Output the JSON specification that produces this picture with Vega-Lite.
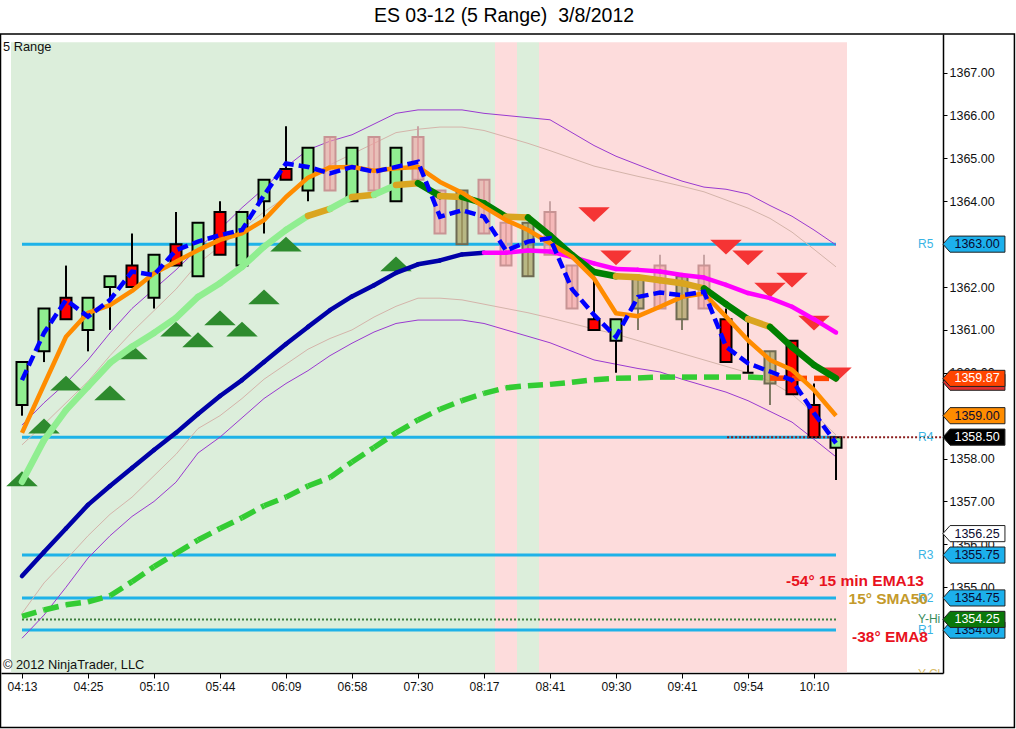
{
"$schema":"https://vega.github.io/schema/vega-lite/v6.json",
"width":942,"height":639,
"autosize":{"type":"none"},
"padding":{"left":1,"top":34,"right":73,"bottom":56},
"background":"#ffffff",
"title":{"text":"ES 03-12 (5 Range)\u00a0 3/8/2012","font":"Liberation Sans","fontSize":19.5,"fontWeight":"normal","color":"#000000","anchor":"middle","frame":"group","dx":32,"dy":18,"offset":10,"baseline":"alphabetic"},
"config":{"view":{"stroke":null},"font":"Liberation Sans"},
"datasets":{
"bars":[
{"i":0,"o":1359.25,"h":1360.25,"l":1359.0,"c":1360.25,"k":"up","bd":1359.83,"em":1358.6,"l3":1357.46,"l3s":"r","sm":1355.26,"sms":"u","s50":1354.32,"s50s":"g","up":1358.78,"ut":1358.32,"lt":1354.39,"lp":1353.81},
{"i":1,"o":1360.5,"h":1361.5,"l":1360.25,"c":1361.5,"k":"up","bd":1360.93,"em":1359.72,"l3":1358.43,"l3s":"r","sm":1355.82,"sms":"u","s50":1354.47,"s50s":"g","up":1359.3,"ut":1358.8,"lt":1355.1,"lp":1354.35},
{"i":2,"o":1361.75,"h":1362.5,"l":1361.25,"c":1361.25,"k":"dn","bd":1361.7,"em":1360.84,"l3":1359.13,"l3s":"r","sm":1356.37,"sms":"u","s50":1354.59,"s50s":"g","up":1359.76,"ut":1359.3,"lt":1355.64,"lp":1355.0},
{"i":3,"o":1361.0,"h":1361.75,"l":1360.5,"c":1361.75,"k":"up","bd":1361.31,"em":1361.4,"l3":1359.68,"l3s":"r","sm":1356.92,"sms":"u","s50":1354.66,"s50s":"g","up":1360.3,"ut":1359.8,"lt":1356.2,"lp":1355.68},
{"i":4,"o":1362.0,"h":1362.25,"l":1361.0,"c":1362.25,"k":"up","bd":1361.7,"em":1361.58,"l3":1360.23,"l3s":"r","sm":1357.36,"sms":"u","s50":1354.8,"s50s":"g","up":1360.93,"ut":1360.4,"lt":1356.7,"lp":1356.2},
{"i":5,"o":1362.5,"h":1363.25,"l":1362.0,"c":1362.0,"k":"dn","bd":1362.36,"em":1361.91,"l3":1360.61,"l3s":"r","sm":1357.78,"sms":"u","s50":1355.13,"s50s":"g","up":1361.5,"ut":1360.95,"lt":1357.1,"lp":1356.65},
{"i":6,"o":1361.75,"h":1362.75,"l":1361.5,"c":1362.75,"k":"up","bd":1362.28,"em":1362.32,"l3":1360.93,"l3s":"r","sm":1358.2,"sms":"u","s50":1355.48,"s50s":"g","up":1361.95,"ut":1361.45,"lt":1357.6,"lp":1357.0},
{"i":7,"o":1363.0,"h":1363.75,"l":1362.5,"c":1362.5,"k":"dn","bd":1362.86,"em":1362.59,"l3":1361.28,"l3s":"r","sm":1358.6,"sms":"u","s50":1355.79,"s50s":"g","up":1362.4,"ut":1361.95,"lt":1358.1,"lp":1357.45},
{"i":8,"o":1362.25,"h":1363.5,"l":1362.25,"c":1363.5,"k":"up","bd":1363.06,"em":1362.86,"l3":1361.77,"l3s":"r","sm":1359.04,"sms":"u","s50":1356.1,"s50s":"g","up":1362.9,"ut":1362.55,"lt":1358.7,"lp":1358.13},
{"i":9,"o":1363.75,"h":1364.0,"l":1362.75,"c":1362.75,"k":"dn","bd":1363.21,"em":1363.1,"l3":1362.09,"l3s":"r","sm":1359.46,"sms":"u","s50":1356.37,"s50s":"g","up":1363.35,"ut":1362.95,"lt":1359.0,"lp":1358.5},
{"i":10,"o":1362.5,"h":1363.75,"l":1362.5,"c":1363.75,"k":"up","bd":1363.33,"em":1363.25,"l3":1362.47,"l3s":"r","sm":1359.83,"sms":"u","s50":1356.62,"s50s":"g","up":1363.85,"ut":1363.35,"lt":1359.4,"lp":1358.95},
{"i":11,"o":1364.0,"h":1364.5,"l":1363.25,"c":1364.5,"k":"up","bd":1364.14,"em":1363.56,"l3":1362.94,"l3s":"r","sm":1360.25,"sms":"u","s50":1356.9,"s50s":"g","up":1364.3,"ut":1363.75,"lt":1359.85,"lp":1359.4},
{"i":12,"o":1364.75,"h":1365.75,"l":1364.5,"c":1364.5,"k":"dn","bd":1364.88,"em":1364.1,"l3":1363.33,"l3s":"r","sm":1360.67,"sms":"u","s50":1357.1,"s50s":"g","up":1364.8,"ut":1364.1,"lt":1360.2,"lp":1359.75},
{"i":13,"o":1364.25,"h":1365.25,"l":1364.0,"c":1365.25,"k":"up","bd":1364.8,"em":1364.55,"l3":1363.66,"l3s":"f","sm":1361.07,"sms":"u","s50":1357.36,"s50s":"g","up":1365.2,"ut":1364.5,"lt":1360.55,"lp":1360.05},
{"i":14,"o":1365.5,"h":1365.5,"l":1364.25,"c":1364.25,"k":"fd","bd":1364.65,"em":1364.79,"l3":1363.82,"l3s":"r","sm":1361.46,"sms":"u","s50":1357.56,"s50s":"g","up":1365.4,"ut":1364.85,"lt":1360.8,"lp":1360.4},
{"i":15,"o":1364.0,"h":1365.25,"l":1364.0,"c":1365.25,"k":"up","bd":1364.8,"em":1364.8,"l3":1364.1,"l3s":"f","sm":1361.78,"sms":"u","s50":1357.92,"s50s":"g","up":1365.55,"ut":1365.1,"lt":1361.0,"lp":1360.69},
{"i":16,"o":1365.5,"h":1365.5,"l":1364.25,"c":1364.25,"k":"fd","bd":1364.69,"em":1364.71,"l3":1364.15,"l3s":"r","sm":1362.04,"sms":"u","s50":1358.26,"s50s":"g","up":1365.8,"ut":1365.35,"lt":1361.3,"lp":1360.95},
{"i":17,"o":1364.0,"h":1365.25,"l":1364.0,"c":1365.25,"k":"up","bd":1364.8,"em":1364.77,"l3":1364.38,"l3s":"f","sm":1362.33,"sms":"u","s50":1358.6,"s50s":"g","up":1366.05,"ut":1365.6,"lt":1361.55,"lp":1361.15},
{"i":18,"o":1365.5,"h":1365.75,"l":1364.5,"c":1364.5,"k":"fd","bd":1364.92,"em":1364.8,"l3":1364.42,"l3s":"d","sm":1362.53,"sms":"u","s50":1358.9,"s50s":"g","up":1366.13,"ut":1365.68,"lt":1361.74,"lp":1361.23},
{"i":19,"o":1364.25,"h":1364.25,"l":1363.25,"c":1363.25,"k":"fd","bd":1363.64,"em":1364.45,"l3":1364.12,"l3s":"f","sm":1362.62,"sms":"u","s50":1359.15,"s50s":"g","up":1366.13,"ut":1365.73,"lt":1361.74,"lp":1361.23},
{"i":20,"o":1363.0,"h":1364.25,"l":1363.0,"c":1364.25,"k":"fu","bd":1363.79,"em":1364.2,"l3":1364.1,"l3s":"d","sm":1362.76,"sms":"u","s50":1359.35,"s50s":"g","up":1366.13,"ut":1365.73,"lt":1361.7,"lp":1361.23},
{"i":21,"o":1364.5,"h":1364.5,"l":1363.25,"c":1363.25,"k":"fd","bd":1363.64,"em":1363.87,"l3":1363.95,"l3s":"d","sm":1362.8,"sms":"m","s50":1359.52,"s50s":"g","up":1366.05,"ut":1365.65,"lt":1361.6,"lp":1361.15},
{"i":22,"o":1363.5,"h":1363.5,"l":1362.5,"c":1362.5,"k":"fd","bd":1362.85,"em":1363.56,"l3":1363.64,"l3s":"f","sm":1362.8,"sms":"m","s50":1359.65,"s50s":"g","up":1366.0,"ut":1365.5,"lt":1361.5,"lp":1361.0},
{"i":23,"o":1362.25,"h":1363.5,"l":1362.25,"c":1363.5,"k":"fu","bd":1363.06,"em":1363.33,"l3":1363.62,"l3s":"d","sm":1362.85,"sms":"m","s50":1359.7,"s50s":"g","up":1365.95,"ut":1365.35,"lt":1361.4,"lp":1360.85},
{"i":24,"o":1363.75,"h":1364.0,"l":1362.75,"c":1362.75,"k":"fd","bd":1363.14,"em":1363.02,"l3":1363.2,"l3s":"d","sm":1362.83,"sms":"m","s50":1359.73,"s50s":"g","up":1365.9,"ut":1365.18,"lt":1361.28,"lp":1360.7},
{"i":25,"o":1362.5,"h":1362.5,"l":1361.5,"c":1361.5,"k":"fd","bd":1361.95,"em":1362.71,"l3":1362.75,"l3s":"d","sm":1362.7,"sms":"m","s50":1359.78,"s50s":"g","up":1365.6,"ut":1365.0,"lt":1361.15,"lp":1360.5},
{"i":26,"o":1361.25,"h":1362.25,"l":1361.0,"c":1361.0,"k":"dn","bd":1361.35,"em":1362.2,"l3":1362.35,"l3s":"d","sm":1362.55,"sms":"m","s50":1359.84,"s50s":"g","up":1365.3,"ut":1364.82,"lt":1361.02,"lp":1360.3},
{"i":27,"o":1360.75,"h":1361.25,"l":1360.0,"c":1361.25,"k":"up","bd":1360.84,"em":1361.39,"l3":1362.25,"l3s":"f","sm":1362.42,"sms":"m","s50":1359.87,"s50s":"g","up":1365.05,"ut":1364.7,"lt":1360.9,"lp":1360.2},
{"i":28,"o":1361.5,"h":1362.25,"l":1361.0,"c":1362.25,"k":"fu","bd":1361.77,"em":1361.32,"l3":1362.23,"l3s":"f","sm":1362.4,"sms":"m","s50":1359.88,"s50s":"g","up":1364.85,"ut":1364.58,"lt":1360.75,"lp":1360.1},
{"i":29,"o":1362.5,"h":1362.75,"l":1361.5,"c":1361.5,"k":"fd","bd":1361.87,"em":1361.54,"l3":1362.16,"l3s":"f","sm":1362.36,"sms":"m","s50":1359.9,"s50s":"g","up":1364.65,"ut":1364.47,"lt":1360.6,"lp":1360.02},
{"i":30,"o":1361.25,"h":1362.25,"l":1361.0,"c":1362.25,"k":"fu","bd":1361.81,"em":1361.77,"l3":1362.09,"l3s":"f","sm":1362.28,"sms":"m","s50":1359.9,"s50s":"g","up":1364.47,"ut":1364.35,"lt":1360.45,"lp":1359.85},
{"i":31,"o":1362.5,"h":1362.75,"l":1361.5,"c":1361.5,"k":"fd","bd":1361.89,"em":1361.85,"l3":1361.97,"l3s":"d","sm":1362.22,"sms":"m","s50":1359.9,"s50s":"g","up":1364.33,"ut":1364.22,"lt":1360.3,"lp":1359.7},
{"i":32,"o":1361.25,"h":1361.5,"l":1360.25,"c":1360.25,"k":"dn","bd":1360.61,"em":1361.31,"l3":1361.6,"l3s":"d","sm":1362.05,"sms":"m","s50":1359.9,"s50s":"g","up":1364.28,"ut":1364.03,"lt":1360.15,"lp":1359.55},
{"i":33,"o":1360.0,"h":1361.25,"l":1360.0,"c":1360.0,"k":"dn","bd":1360.22,"em":1360.76,"l3":1361.25,"l3s":"f","sm":1361.86,"sms":"m","s50":1359.9,"s50s":"g","up":1364.17,"ut":1363.84,"lt":1360.0,"lp":1359.35},
{"i":34,"o":1359.75,"h":1360.5,"l":1359.25,"c":1360.5,"k":"fu","bd":1360.03,"em":1360.3,"l3":1361.07,"l3s":"d","sm":1361.74,"sms":"m","s50":1359.88,"s50s":"o","up":1363.9,"ut":1363.6,"lt":1359.8,"lp":1359.1},
{"i":35,"o":1360.75,"h":1360.75,"l":1359.5,"c":1359.5,"k":"dn","bd":1359.83,"em":1360.07,"l3":1360.6,"l3s":"d","sm":1361.54,"sms":"m","s50":1359.87,"s50s":"o","up":1363.65,"ut":1363.28,"lt":1359.5,"lp":1358.85},
{"i":36,"o":1359.25,"h":1359.75,"l":1358.5,"c":1358.5,"k":"dn","bd":1359.06,"em":1359.6,"l3":1360.18,"l3s":"d","sm":1361.25,"sms":"m","s50":1359.87,"s50s":"o","up":1363.33,"ut":1362.88,"lt":1359.05,"lp":1358.45},
{"i":37,"o":1358.25,"h":1358.5,"l":1357.5,"c":1358.5,"k":"up","bd":1358.36,"em":1359.0,"l3":1359.87,"l3s":"d","sm":1360.94,"sms":"m","s50":1359.87,"s50s":"o","up":1362.98,"ut":1362.47,"lt":1358.55,"lp":1358.04}
],
"bg":[{"x0":-0.5,"x1":21.5,"st":"g"},{"x0":21.5,"x1":22.5,"st":"p"},{"x0":22.5,"x1":23.5,"st":"g"},{"x0":23.5,"x1":37.5,"st":"p"}],
"lv":[{"p":1363.0},{"p":1358.5},{"p":1355.75},{"p":1354.75},{"p":1354.0}],
"tri":[
{"i":0,"p":1357.53,"d":"u"},{"i":1,"p":1358.76,"d":"u"},{"i":2,"p":1359.76,"d":"u"},{"i":4,"p":1359.53,"d":"u"},{"i":5,"p":1360.49,"d":"u"},{"i":7,"p":1361.02,"d":"u"},{"i":8,"p":1360.77,"d":"u"},{"i":9,"p":1361.28,"d":"u"},{"i":10,"p":1361.02,"d":"u"},{"i":11,"p":1361.77,"d":"u"},{"i":12,"p":1363.0,"d":"u"},{"i":17,"p":1362.54,"d":"u"},
{"i":26,"p":1363.69,"d":"d"},{"i":27,"p":1362.68,"d":"d"},{"i":32,"p":1362.93,"d":"d"},{"i":33,"p":1362.68,"d":"d"},{"i":34,"p":1361.93,"d":"d"},{"i":35,"p":1362.16,"d":"d"},{"i":36,"p":1361.16,"d":"d"},{"i":37,"p":1359.95,"d":"d"}
],
"lbl":[{"n":"R5","p":1363.0,"c":"piv"},{"n":"R4","p":1358.5,"c":"piv"},{"n":"R3","p":1355.75,"c":"piv"},{"n":"R2","p":1354.75,"c":"piv"},{"n":"Y-Hi","p":1354.25,"c":"hi"},{"n":"R1","p":1354.0,"c":"piv"},{"n":"Y-Cl","p":1352.98,"c":"cl"}],
"ann":[{"t":"-54° 15 min EMA13","x":41.0,"p":1355.15,"c":"red"},{"t":"15° SMA50","x":41.18,"p":1354.73,"c":"gold"},{"t":"-38° EMA8","x":41.18,"p":1353.84,"c":"red"}],
"tags":[
{"p":1363.0,"t":"1363.00","k":"piv","z":0},{"p":1359.78,"t":"1359.83","k":"ema","z":0},{"p":1359.87,"t":"1359.87","k":"sma","z":1},{"p":1359.0,"t":"1359.00","k":"e8","z":1},{"p":1358.5,"t":"1358.50","k":"last","z":1},{"p":1356.25,"t":"1356.25","k":"wht","z":0},{"p":1355.75,"t":"1355.75","k":"piv","z":0},{"p":1354.75,"t":"1354.75","k":"piv","z":0},{"p":1354.0,"t":"1354.00","k":"piv","z":0},{"p":1354.25,"t":"1354.25","k":"hi","z":1}
],
"notes":[{"t":"5 Range","x":-0.864,"p":1367.594},{"t":"© 2012 NinjaTrader, LLC","x":-0.864,"p":1353.19}]
},
"layer":[
{"data":{"name":"bg"},"mark":{"type":"rect"},
 "encoding":{
  "x":{"field":"x0","type":"quantitative","scale":{"domain":[-0.954545,41.863636],"nice":false,"zero":false,"padding":0},
   "axis":{"title":null,"values":[0,3,6,9,12,15,18,21,24,27,30,33,36],"labelExpr":"['04:13','04:25','05:10','05:44','06:09','06:58','07:30','08:17','08:41','09:30','09:41','09:54','10:10'][round(datum.value/3)]","grid":false,"tickSize":5,"tickColor":"#000000","domainColor":"#000000","domainWidth":1.5,"labelFont":"Liberation Sans","labelFontSize":12,"labelColor":"#111111","labelPadding":3,"labelFlush":false,"labelOverlap":false}},
  "x2":{"field":"x1"},
  "y":{"datum":1367.71,"type":"quantitative","scale":{"domain":[1353.0,1367.9],"nice":false,"zero":false,"padding":0},
   "axis":{"title":null,"orient":"right","values":[1355,1356,1357,1358,1360,1361,1362,1364,1365,1366,1367],"format":".2f","grid":false,"tickSize":4,"tickColor":"#000000","domainColor":"#000000","domainWidth":1.5,"labelFont":"Liberation Sans","labelFontSize":12.5,"labelColor":"#111111","labelPadding":2,"labelFlush":false,"labelOverlap":false}},
  "y2":{"datum":1353.02},
  "fill":{"condition":{"test":"datum.st=='g'","value":"#DCEEDB"},"value":"#FDDCDC"}}},
{"data":{"name":"lv"},"mark":{"type":"rule","stroke":"#1EB2E8","strokeWidth":3},
 "encoding":{"x":{"datum":0,"type":"quantitative"},"x2":{"datum":37},"y":{"field":"p","type":"quantitative"}}},
{"data":{"values":[{"p":1354.25}]},"mark":{"type":"rule","stroke":"#3E7E3E","strokeWidth":2,"strokeDash":[2,2]},
 "encoding":{"x":{"datum":0,"type":"quantitative"},"x2":{"datum":37},"y":{"field":"p","type":"quantitative"}}},
{"data":{"name":"bars"},"transform":[{"fold":["up","ut","lt","lp"],"as":["key","val"]}],
 "mark":{"type":"line","strokeWidth":1},
 "encoding":{"x":{"field":"i","type":"quantitative"},"y":{"field":"val","type":"quantitative"},"detail":{"field":"key"},
  "stroke":{"condition":{"test":"datum.key=='up'||datum.key=='lp'","value":"#9A3AD0"},"value":"#D4B4AA"}}},
{"data":{"name":"bars"},"mark":{"type":"rule","strokeWidth":2},
 "encoding":{"x":{"field":"i","type":"quantitative"},"y":{"field":"l","type":"quantitative"},"y2":{"field":"h"},
  "stroke":{"condition":[{"test":"datum.k=='fd'","value":"#C8A4A4"},{"test":"datum.k=='fu'","value":"#807A64"}],"value":"#000000"}}},
{"data":{"name":"bars"},"mark":{"type":"bar","width":11,"strokeWidth":2},
 "encoding":{"x":{"field":"i","type":"quantitative"},"y":{"field":"o","type":"quantitative"},"y2":{"field":"c"},
  "fill":{"condition":[{"test":"datum.k=='up'","value":"#90EE90"},{"test":"datum.k=='dn'","value":"#FF0000"},{"test":"datum.k=='fd'","value":"#F0A0A0"}],"value":"#A8A060"},
  "fillOpacity":{"condition":[{"test":"datum.k=='fd'","value":0.6},{"test":"datum.k=='fu'","value":0.7}],"value":1},
  "stroke":{"condition":[{"test":"datum.k=='fd'","value":"#C89494"},{"test":"datum.k=='fu'","value":"#6E6A52"}],"value":"#000000"}}},
{"data":{"name":"tri"},"transform":[{"filter":"datum.d=='u'"}],
 "mark":{"type":"point","filled":true,"opacity":1,"size":992,"shape":"M -1 0.47 L 1 0.47 L 0 -0.47 Z","fill":"#2E8B2E","strokeWidth":0},
 "encoding":{"x":{"field":"i","type":"quantitative"},"y":{"field":"p","type":"quantitative"}}},
{"data":{"name":"tri"},"transform":[{"filter":"datum.d=='d'"}],
 "mark":{"type":"point","filled":true,"opacity":1,"size":992,"shape":"M -1 -0.47 L 1 -0.47 L 0 0.47 Z","fill":"#F53434","strokeWidth":0},
 "encoding":{"x":{"field":"i","type":"quantitative"},"y":{"field":"p","type":"quantitative"}}},
{"data":{"name":"bars"},"transform":[{"window":[{"op":"lead","field":"s50","as":"n"},{"op":"lead","field":"i","as":"ni"}],"sort":[{"field":"i","order":"ascending"}]},{"filter":"datum.ni != null"}],
 "mark":{"type":"rule","strokeWidth":5.5,"strokeDash":[15,7],"strokeCap":"butt"},
 "encoding":{"x":{"field":"i","type":"quantitative"},"x2":{"field":"ni"},"y":{"field":"s50","type":"quantitative"},"y2":{"field":"n"},
  "stroke":{"condition":{"test":"datum.s50s=='o'","value":"#FF4500"},"value":"#33CC33"}}},
{"data":{"name":"bars"},"transform":[{"window":[{"op":"lead","field":"sm","as":"n"},{"op":"lead","field":"i","as":"ni"}],"sort":[{"field":"i","order":"ascending"}]},{"filter":"datum.ni != null"}],
 "mark":{"type":"rule","strokeWidth":4.5,"strokeCap":"round"},
 "encoding":{"x":{"field":"i","type":"quantitative"},"x2":{"field":"ni"},"y":{"field":"sm","type":"quantitative"},"y2":{"field":"n"},
  "stroke":{"condition":{"test":"datum.sms=='m'","value":"#FF00FF"},"value":"#0000A8"}}},
{"data":{"name":"bars"},"transform":[{"window":[{"op":"lead","field":"l3","as":"n"},{"op":"lead","field":"i","as":"ni"}],"sort":[{"field":"i","order":"ascending"}]},{"filter":"datum.ni != null"}],
 "mark":{"type":"rule","strokeWidth":6.5,"strokeCap":"round"},
 "encoding":{"x":{"field":"i","type":"quantitative"},"x2":{"field":"ni"},"y":{"field":"l3","type":"quantitative"},"y2":{"field":"n"},
  "stroke":{"condition":[{"test":"datum.l3s=='r'","value":"#90EE90"},{"test":"datum.l3s=='f'","value":"#DAA520"}],"value":"#008000"}}},
{"data":{"name":"bars"},"mark":{"type":"line","stroke":"#FF8C00","strokeWidth":4.5,"strokeJoin":"round"},
 "encoding":{"x":{"field":"i","type":"quantitative"},"y":{"field":"em","type":"quantitative"}}},
{"data":{"name":"bars"},"mark":{"type":"line","stroke":"#0000FF","strokeWidth":4.5,"strokeDash":[11,5]},
 "encoding":{"x":{"field":"i","type":"quantitative"},"y":{"field":"bd","type":"quantitative"}}},
{"data":{"values":[{"p":1358.5}]},"mark":{"type":"rule","stroke":"#8B1C1C","strokeWidth":2,"strokeDash":[2,2]},
 "encoding":{"x":{"datum":32.05,"type":"quantitative"},"x2":{"datum":41.86},"y":{"field":"p","type":"quantitative"}}},
{"data":{"name":"lbl"},"mark":{"type":"text","align":"left","baseline":"middle","fontSize":12,"clip":true},
 "encoding":{"x":{"datum":40.73,"type":"quantitative"},"y":{"field":"p","type":"quantitative"},"text":{"field":"n"},
  "fill":{"condition":[{"test":"datum.c=='hi'","value":"#3A8C5A"},{"test":"datum.c=='cl'","value":"#D8BC6A"}],"value":"#3AB4E4"}}},
{"data":{"name":"ann"},"mark":{"type":"text","align":"right","baseline":"middle","fontSize":15.5,"fontWeight":"bold"},
 "encoding":{"x":{"field":"x","type":"quantitative"},"y":{"field":"p","type":"quantitative"},"text":{"field":"t"},
  "fill":{"condition":{"test":"datum.c=='gold'","value":"#C49A2C"},"value":"#E8121E"}}},
{"data":{"name":"tags"},"transform":[{"filter":"datum.z==0"}],
 "mark":{"type":"point","filled":true,"opacity":1,"size":3844,"shape":"M -1 0 L -0.77 -0.26 L 1 -0.26 L 1 0.26 L -0.77 0.26 Z","stroke":"#222222","strokeWidth":1},
 "encoding":{"x":{"datum":43.27,"type":"quantitative"},"y":{"field":"p","type":"quantitative"},
  "fill":{"condition":[{"test":"datum.k=='piv'","value":"#1CB0EC"},{"test":"datum.k=='ema'","value":"#E03030"},{"test":"datum.k=='sma'","value":"#FF4500"},{"test":"datum.k=='e8'","value":"#FF8C00"},{"test":"datum.k=='last'","value":"#000000"},{"test":"datum.k=='hi'","value":"#0A780A"}],"value":"#FFFFFF"}}},
{"data":{"name":"tags"},"transform":[{"filter":"datum.z==0 && datum.k!='ema'"}],
 "mark":{"type":"text","align":"center","baseline":"middle","fontSize":12.5},
 "encoding":{"x":{"datum":43.41,"type":"quantitative"},"y":{"field":"p","type":"quantitative"},"text":{"field":"t"},
  "fill":{"condition":{"test":"datum.k=='sma'||datum.k=='last'||datum.k=='hi'||datum.k=='ema'","value":"#FFFFFF"},"value":"#0A0A30"}}},
{"data":{"name":"tags"},"transform":[{"filter":"datum.z==1"}],
 "mark":{"type":"point","filled":true,"opacity":1,"size":3844,"shape":"M -1 0 L -0.77 -0.26 L 1 -0.26 L 1 0.26 L -0.77 0.26 Z","stroke":"#222222","strokeWidth":1},
 "encoding":{"x":{"datum":43.27,"type":"quantitative"},"y":{"field":"p","type":"quantitative"},
  "fill":{"condition":[{"test":"datum.k=='piv'","value":"#1CB0EC"},{"test":"datum.k=='ema'","value":"#E03030"},{"test":"datum.k=='sma'","value":"#FF4500"},{"test":"datum.k=='e8'","value":"#FF8C00"},{"test":"datum.k=='last'","value":"#000000"},{"test":"datum.k=='hi'","value":"#0A780A"}],"value":"#FFFFFF"}}},
{"data":{"name":"tags"},"transform":[{"filter":"datum.z==1"}],
 "mark":{"type":"text","align":"center","baseline":"middle","fontSize":12.5},
 "encoding":{"x":{"datum":43.41,"type":"quantitative"},"y":{"field":"p","type":"quantitative"},"text":{"field":"t"},
  "fill":{"condition":{"test":"datum.k=='sma'||datum.k=='last'||datum.k=='hi'||datum.k=='ema'","value":"#FFFFFF"},"value":"#0A0A30"}}},
{"data":{"name":"notes"},"mark":{"type":"text","align":"left","baseline":"middle","fontSize":12.8,"fill":"#111111"},
 "encoding":{"x":{"field":"x","type":"quantitative"},"y":{"field":"p","type":"quantitative"},"text":{"field":"t"}}},
{"data":{"values":[{"a":1}]},"mark":{"type":"rect","filled":false,"stroke":"#000000","strokeWidth":1.5},
 "encoding":{"x":{"datum":-0.977,"type":"quantitative"},"x2":{"datum":45.11},"y":{"datum":1367.9,"type":"quantitative"},"y2":{"datum":1351.73}}}
]
}
